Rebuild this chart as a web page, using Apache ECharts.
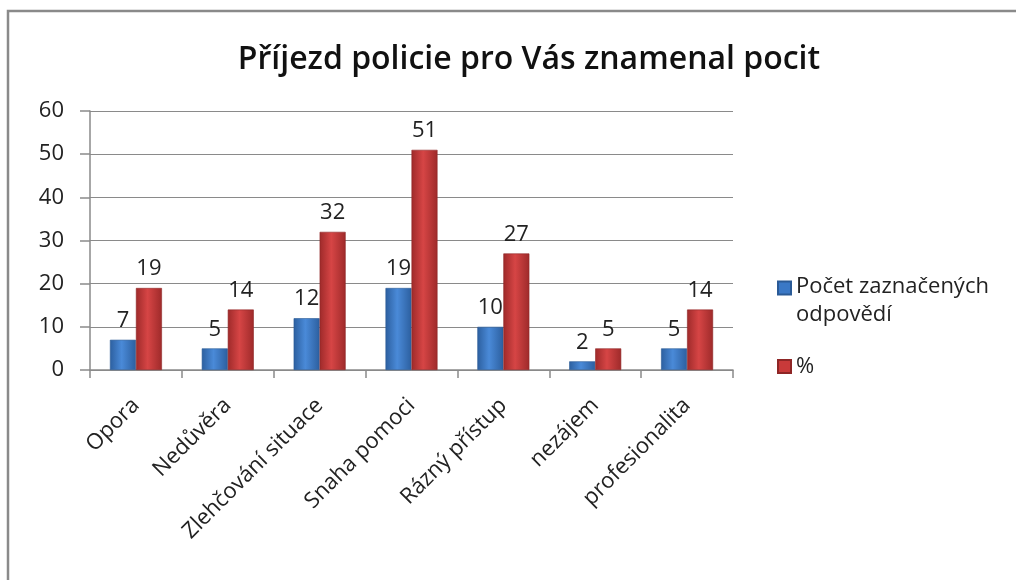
<!DOCTYPE html>
<html lang="cs">
<head>
    <meta charset="UTF-8">
    <title>Příjezd policie</title>
    <script src="https://cdn.jsdelivr.net/npm/echarts@6/dist/echarts.min.js"></script>
    <style>
        html, body { margin: 0; padding: 0; background: #fff; }
        #main { width: 1016px; height: 580px; }
    </style>
</head>
<body>
<div id="main"></div>
<script type="text/javascript">
    // data
    var categories = ['Opora', 'Nedůvěra', 'Zlehčování situace', 'Snaha pomoci', 'Rázný přístup', 'nezájem', 'profesionalita'];
    var pocet = [7, 5, 12, 19, 10, 2, 5];
    var procenta = [19, 14, 32, 51, 27, 5, 14];
    var yTicks = [0, 10, 20, 30, 40, 50, 60];

    var font = 'Open Sans';

    function barGrad(dark, light) {
        return new echarts.graphic.LinearGradient(0, 0, 1, 0, [
            {offset: 0, color: dark},
            {offset: 0.45, color: light},
            {offset: 1, color: dark}
        ]);
    }

    var myChart = echarts.init(document.getElementById('main'));

    var option = {
        animation: false,
        title: {
            text: 'Příjezd policie pro Vás znamenal pocit',
            left: 524,
            textAlign: 'center',
            top: 39,
            textStyle: {fontFamily: font, fontSize: 32, fontWeight: 600, color: '#111'}
        },
        graphic: [{
            type: 'rect',
            shape: {x: 8, y: 11, width: 1100, height: 700},
            style: {fill: 'none', stroke: '#8a8a8a', lineWidth: 2.5}
        }],
        legend: {
            orient: 'vertical',
            left: 772,
            top: 268,
            itemWidth: 13,
            itemHeight: 39,
            itemGap: 17,
            textStyle: {fontFamily: font, fontSize: 22, color: '#222', lineHeight: 28},
            formatter: function (name) {
                return name === 'Počet zaznačených odpovědí' ? 'Počet zaznačených\nodpovědí' : name;
            },
            data: [
                // square sits at the top of the icon box, next to the first text line
                {name: 'Počet zaznačených odpovědí', icon: 'path://M0,0 L10,0 L10,10 L0,10 Z M0,30', itemStyle: {color: '#3a78c6'}},
                {name: '%', icon: 'path://M0,0 M0,30 M0,10 L10,10 L10,20 L0,20 Z', itemStyle: {color: '#c83a3a'}}
            ]
        },
        grid: {left: 90, right: 283, top: 111, bottom: 210},
        xAxis: {
            type: 'category',
            data: categories,
            axisLine: {lineStyle: {color: '#8a8a8a', width: 1.5}},
            axisTick: {show: true, length: 8, lineStyle: {color: '#8a8a8a', width: 1.5}},
            axisLabel: {
                rotate: 45, interval: 0, margin: 32,
                fontFamily: font, fontSize: 22, color: '#222'
            }
        },
        yAxis: {
            type: 'value',
            min: yTicks[0],
            max: yTicks[yTicks.length - 1],
            interval: 10,
            axisLine: {show: true, lineStyle: {color: '#8a8a8a', width: 1.5}},
            axisTick: {show: true, length: 10, lineStyle: {color: '#8a8a8a', width: 1.5}},
            splitLine: {lineStyle: {color: '#8a8a8a', width: 1.2}},
            axisLabel: {margin: 26, fontFamily: font, fontSize: 22, color: '#222'}
        },
        series: [{
            name: 'Počet zaznačených odpovědí',
            type: 'bar',
            data: pocet,
            barWidth: 26,
            barGap: '0%',
            itemStyle: {color: barGrad('#2c5f9f', '#4a8ad8'), borderColor: '#2a5a96', borderWidth: 0.6},
            label: {show: true, position: 'top', distance: 8, fontFamily: font, fontSize: 22, color: '#222'}
        }, {
            name: '%',
            type: 'bar',
            data: procenta,
            barWidth: 26,
            itemStyle: {color: barGrad('#9e2a2a', '#d64545'), borderColor: '#8e2626', borderWidth: 0.6},
            label: {show: true, position: 'top', distance: 8, fontFamily: font, fontSize: 22, color: '#222'}
        }]
    };

    myChart.setOption(option);
</script>
</body>
</html>
